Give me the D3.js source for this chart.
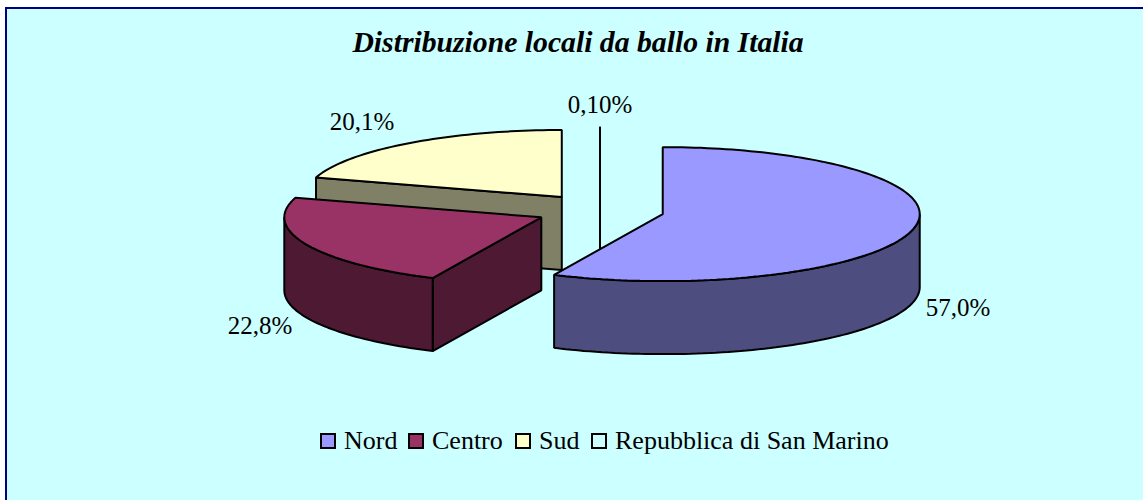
<!DOCTYPE html>
<html lang="en">
  <head>
    <meta charset="utf-8">
    <script src="https://cdn.jsdelivr.net/npm/d3@7"></script>
    <style>
      html, body { margin: 0; padding: 0; background: #fff; }
      svg { display: block; }
    </style>
  </head>
  <body>
    <script type="text/javascript">
      // Data
      var categories = ["Nord", "Centro", "Sud", "Repubblica di San Marino"];
      var values = [57.0, 22.8, 20.1, 0.1];
      var valueLabels = ["57,0%", "22,8%", "20,1%", "0,10%"];
      var topColors = ["#9999ff", "#993366", "#ffffcc", "#ccffff"];
      var sideColors = ["#4d4d80", "#4d1933", "#808066", "#668080"];

      // Visuals
      var svgWidth = 1143;
      var svgHeight = 500;
      var cx = 600, cy = 210.5;   // pie centre before exploding
      var rx = 257, ry = 67;      // flattened radius
      var depth = 73;
      var explode = 0.25;
      var drawOrder = [2, 3, 1, 0]; // back to front

      var labelPos = [[958, 316], [260, 334], [362, 130], [600, 113]];
      var legendSwatchX = [321, 409, 516, 592];

      var svg = d3.select("body")
        .append("svg")
        .attr("width", svgWidth)
        .attr("height", svgHeight);

      // frame
      svg.append("rect")
        .attr("x", 6).attr("y", 8)
        .attr("width", svgWidth).attr("height", svgHeight)
        .attr("fill", "#ccffff")
        .attr("stroke", "#000080")
        .attr("stroke-width", 2);

      svg.append("text")
        .attr("x", 578).attr("y", 52)
        .attr("text-anchor", "middle")
        .attr("font-family", "Liberation Serif")
        .attr("font-weight", "bold")
        .attr("font-style", "italic")
        .attr("font-size", 29.7)
        .attr("fill", "#000")
        .text("Distribuzione locali da ballo in Italia");

      var pie = d3.pie().sort(null);
      var degree = Math.PI / 180;
      // the original draws slice edges on whole degrees, so 0,10% collapses to a line
      var slices = pie(values).map(function (s) {
        return {
          startAngle: Math.round(s.startAngle / degree) * degree,
          endAngle: Math.round(s.endAngle / degree) * degree
        };
      });

      var outline = d3.line();

      // angle is clockwise from 12 o'clock, like d3.pie
      function rim(c, a) {
        return [c[0] + rx * Math.sin(a), c[1] - ry * Math.cos(a)];
      }
      function rimPoints(c, a0, a1) {
        var n = Math.max(2, Math.ceil((a1 - a0) * 40));
        return d3.range(n + 1).map(function (i) {
          return rim(c, a0 + (a1 - a0) * i / n);
        });
      }
      function shifted(pts) {
        return pts.map(function (p) { return [p[0], p[1] + depth]; });
      }

      drawOrder.forEach(function (i) {
        var s = slices[i];
        var mid = (s.startAngle + s.endAngle) / 2;
        var c = [cx + explode * rx * Math.sin(mid), cy - explode * ry * Math.cos(mid)];
        var g = svg.append("g").attr("class", "slice");

        function face(pts, fill) {
          g.append("path")
            .attr("d", outline(pts) + "Z")
            .attr("fill", fill)
            .attr("stroke", "#000")
            .attr("stroke-width", 2)
            .attr("stroke-linejoin", "bevel");
        }

        // flat side of the start edge, only when it faces the viewer
        if (Math.cos(s.startAngle - Math.PI / 2) < -0.01 || s.startAngle === s.endAngle) {
          var r0 = rim(c, s.startAngle);
          face([c, r0, [r0[0], r0[1] + depth], [c[0], c[1] + depth]], sideColors[i]);
        }
        // curved outer wall, front half only
        var a0 = Math.max(s.startAngle, Math.PI / 2);
        var a1 = Math.min(s.endAngle, 3 * Math.PI / 2);
        if (a1 > a0) {
          var top = rimPoints(c, a0, a1);
          face(top.concat(shifted(top).reverse()), sideColors[i]);
        }
        // top
        face([c].concat(rimPoints(c, s.startAngle, s.endAngle)), topColors[i]);
      });

      // value labels
      svg.selectAll("text.value")
        .data(valueLabels)
        .enter().append("text")
        .attr("class", "value")
        .attr("x", function (d, i) { return labelPos[i][0]; })
        .attr("y", function (d, i) { return labelPos[i][1]; })
        .attr("text-anchor", "middle")
        .attr("font-family", "Liberation Serif")
        .attr("font-size", 25)
        .attr("fill", "#000")
        .text(function (d) { return d; });

      // legend
      var legend = svg.selectAll("g.legend")
        .data(categories)
        .enter().append("g")
        .attr("class", "legend")
        .attr("transform", function (d, i) { return "translate(" + legendSwatchX[i] + ",434)"; });

      legend.append("rect")
        .attr("width", 14).attr("height", 14)
        .attr("fill", function (d, i) { return topColors[i]; })
        .attr("stroke", "#000")
        .attr("stroke-width", 2);

      legend.append("text")
        .attr("x", 23).attr("y", 15)
        .attr("font-family", "Liberation Serif")
        .attr("font-size", 26)
        .attr("fill", "#000")
        .text(function (d) { return d; });
    </script>
  </body>
</html>
